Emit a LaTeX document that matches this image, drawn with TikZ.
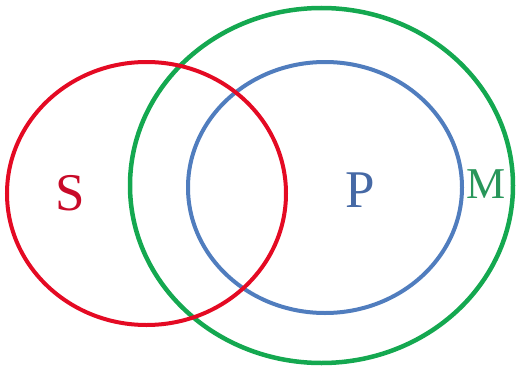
\documentclass[tikz,border=0pt]{standalone}
\usepackage{fontspec}
\setmainfont{Liberation Serif}
\definecolor{cred}{RGB}{228,10,35}
\definecolor{cgreen}{RGB}{20,168,80}
\definecolor{cblue}{RGB}{80,125,190}
\definecolor{tred}{RGB}{200,10,40}
\definecolor{tblue}{RGB}{70,105,165}
\definecolor{tgreen}{RGB}{40,150,90}
\tikzset{ring/.style={line width=4pt}}
\begin{document}
\begin{tikzpicture}[x=1pt,y=-1pt]
\useasboundingbox (0,0) rectangle (517,372);
\draw[ring,cgreen,line width=4.5pt] (321.5,185.5) ellipse [x radius=191.5,y radius=177.5];
\draw[ring,cblue] (325,187.5) ellipse [x radius=137,y radius=125.5];
\draw[ring,cred] (146.5,193.5) ellipse [x radius=139.5,y radius=131.5];
\node[tred,font=\fontsize{53}{53}\selectfont] (s) at (70,193) {S};
\node[tblue,font=\fontsize{53}{53}\selectfont] (p) at (360,190) {P};
\node[tgreen,font=\fontsize{44}{44}\selectfont] (m) at (486,184) {M};
\end{tikzpicture}
\end{document}
